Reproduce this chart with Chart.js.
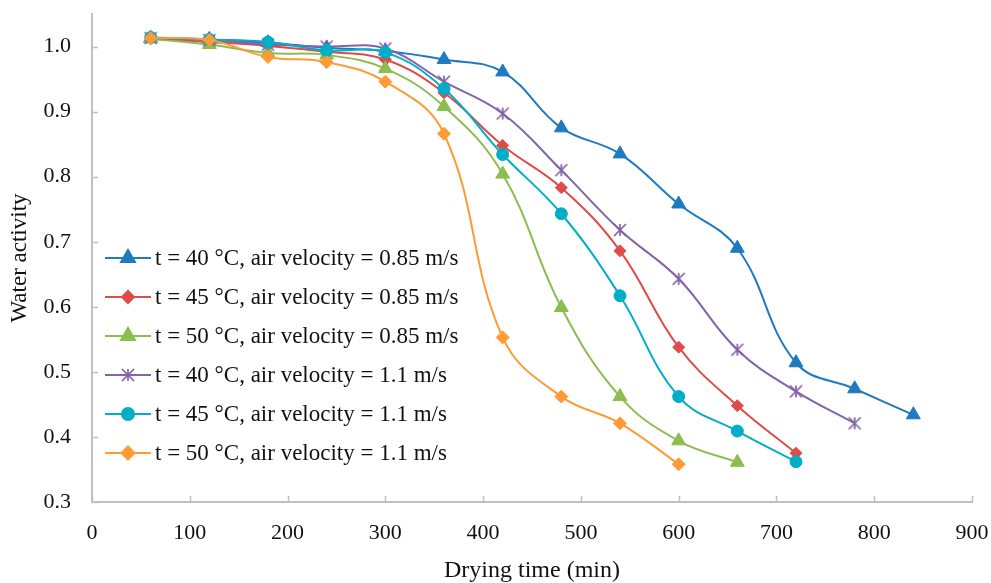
<!DOCTYPE html>
<html>
<head>
<meta charset="utf-8">
<script src="https://cdn.jsdelivr.net/npm/chart.js@4.4.1/dist/chart.umd.min.js"></script>
<style>
  html, body { margin: 0; padding: 0; background: #fff; }
  #wrap { width: 991px; height: 583px; }
</style>
</head>
<body>
<div id="wrap"><canvas id="chart" width="991" height="583"></canvas></div>
<script>
// drying time (min)
const dryingTime = [60, 120, 180, 240, 300, 360, 420, 480, 540, 600, 660, 720, 780, 840];

const seriesLabels = [
  't = 40 °C, air velocity = 0.85 m/s',
  't = 45 °C, air velocity = 0.85 m/s',
  't = 50 °C, air velocity = 0.85 m/s',
  't = 40 °C, air velocity = 1.1 m/s',
  't = 45 °C, air velocity = 1.1 m/s',
  't = 50 °C, air velocity = 1.1 m/s'
];

// water activity per series
const aw40v085 = [1.013, 1.011, 1.006, 0.998, 0.993, 0.980, 0.961, 0.875, 0.835, 0.758, 0.690, 0.514, 0.474, 0.434];
const aw45v085 = [1.012, 1.007, 1.001, 0.992, 0.980, 0.929, 0.848, 0.783, 0.686, 0.538, 0.448, 0.375];
const aw50v085 = [1.012, 1.003, 0.990, 0.987, 0.966, 0.908, 0.804, 0.599, 0.462, 0.394, 0.361];
const aw40v11  = [1.013, 1.010, 1.003, 1.000, 0.997, 0.946, 0.897, 0.810, 0.718, 0.643, 0.534, 0.470, 0.421];
const aw45v11  = [1.014, 1.011, 1.007, 0.994, 0.991, 0.935, 0.834, 0.743, 0.617, 0.462, 0.409, 0.362];
const aw50v11  = [1.013, 1.010, 0.984, 0.976, 0.946, 0.866, 0.553, 0.462, 0.421, 0.358];

const yTicks = [0.3, 0.4, 0.5, 0.6, 0.7, 0.8, 0.9, 1.0];
const xTicks = [0, 100, 200, 300, 400, 500, 600, 700, 800, 900];

const colors = ['#1f7ac0', '#de4c4a', '#8cbd4f', '#8463a6', '#00aec7', '#ff9a36'];
const FONT = '"Liberation Serif", "Times New Roman", serif';
const AXIS = '#c0c0c0';

// excel-like star marker: an x with a vertical bar
function starMarker(color, r) {
  const c = document.createElement('canvas');
  const s = Math.ceil(r * 2 + 4);
  c.width = s; c.height = s;
  const g = c.getContext('2d');
  const m = s / 2;
  g.strokeStyle = color;
  g.lineWidth = 1.7;
  g.beginPath();
  g.moveTo(m - r, m - r); g.lineTo(m + r, m + r);
  g.moveTo(m + r, m - r); g.lineTo(m - r, m + r);
  g.moveTo(m, m - r); g.lineTo(m, m + r);
  g.stroke();
  return c;
}

const markers = [
  { style: 'triangle', r: 8 },
  { style: 'rectRot', r: 6 },
  { style: 'triangle', r: 8 },
  { style: starMarker(colors[3], 6), r: 7 },
  { style: 'circle', r: 6 },
  { style: 'rectRot', r: 6.5 }
];

const seriesValues = [aw40v085, aw45v085, aw50v085, aw40v11, aw45v11, aw50v11];

const datasets = seriesValues.map((vals, i) => ({
  label: seriesLabels[i],
  data: vals.map((v, j) => ({ x: dryingTime[j], y: v })),
  borderColor: colors[i],
  backgroundColor: colors[i],
  pointBackgroundColor: colors[i],
  pointBorderColor: colors[i],
  pointStyle: markers[i].style,
  pointRadius: markers[i].r,
  pointBorderWidth: 1,
  borderWidth: 2,
  tension: 0.4,
  order: 5 - i
}));

// ticks pointing into the plot, like the original
const innerTicks = {
  id: 'innerTicks',
  beforeDatasetsDraw(chart) {
    const { ctx, chartArea, scales } = chart;
    ctx.save();
    ctx.strokeStyle = AXIS;
    ctx.lineWidth = 1.5;
    ctx.beginPath();
    scales.x.ticks.forEach(t => {
      const px = Math.round(scales.x.getPixelForValue(t.value)) + 0.5;
      ctx.moveTo(px, chartArea.bottom);
      ctx.lineTo(px, chartArea.bottom - 6);
    });
    scales.y.ticks.forEach(t => {
      const py = Math.round(scales.y.getPixelForValue(t.value)) + 0.5;
      ctx.moveTo(chartArea.left, py);
      ctx.lineTo(chartArea.left + 6, py);
    });
    ctx.stroke();
    ctx.restore();
  }
};

// legend inside the plot, left side
const plotLegend = {
  id: 'plotLegend',
  afterDatasetsDraw(chart) {
    const { ctx } = chart;
    const x0 = 105, lineW = 46, rowH = 39, y0 = 258;
    ctx.save();
    datasets.forEach((ds, i) => {
      const y = y0 + i * rowH;
      ctx.strokeStyle = ds.borderColor;
      ctx.lineWidth = 2;
      ctx.beginPath();
      ctx.moveTo(x0, y);
      ctx.lineTo(x0 + lineW, y);
      ctx.stroke();
      ctx.fillStyle = ds.borderColor;
      Chart.helpers.drawPoint(ctx, {
        pointStyle: ds.pointStyle,
        radius: ds.pointRadius,
        rotation: 0,
        borderWidth: 1
      }, x0 + lineW / 2, y);
      ctx.fillStyle = '#111';
      ctx.font = '23px ' + FONT;
      ctx.textBaseline = 'middle';
      ctx.textAlign = 'left';
      ctx.fillText(ds.label, x0 + lineW + 4, y + 1);
    });
    ctx.restore();
  }
};

new Chart(document.getElementById('chart'), {
  type: 'line',
  data: { datasets: datasets },
  options: {
    responsive: false,
    animation: false,
    devicePixelRatio: 1,
    layout: { padding: { left: 0, top: 14, right: 19, bottom: 0 } },
    plugins: {
      legend: { display: false },
      tooltip: { enabled: false }
    },
    scales: {
      x: {
        type: 'linear',
        min: 0,
        max: 900,
        afterBuildTicks: s => { s.ticks = xTicks.map(v => ({ value: v })); },
        afterFit: s => { s.height = 81; s.paddingLeft = 0; s.paddingRight = 0; },
        grid: { drawOnChartArea: false, drawTicks: false },
        border: { color: AXIS, width: 2 },
        ticks: {
          padding: 18,
          color: '#111',
          font: { family: FONT, size: 22 },
          maxRotation: 0
        },
        title: {
          display: true,
          text: 'Drying time (min)',
          color: '#111',
          font: { family: FONT, size: 24, lineHeight: 1 },
          padding: { top: 0, bottom: 0 }
        }
      },
      y: {
        type: 'linear',
        min: 0.3,
        max: 1.05,
        afterBuildTicks: s => { s.ticks = yTicks.map(v => ({ value: v })); },
        afterFit: s => { s.width = 92; s.paddingTop = 0; s.paddingBottom = 0; },
        grid: { drawOnChartArea: false, drawTicks: false },
        border: { color: AXIS, width: 2 },
        ticks: {
          padding: 21,
          color: '#111',
          font: { family: FONT, size: 22 },
          callback: v => v.toFixed(1)
        },
        title: {
          display: true,
          text: 'Water activity',
          color: '#111',
          font: { family: FONT, size: 23, lineHeight: 1 },
          padding: { top: 8, bottom: 0 }
        }
      }
    }
  },
  plugins: [innerTicks, plotLegend]
});
</script>
</body>
</html>
